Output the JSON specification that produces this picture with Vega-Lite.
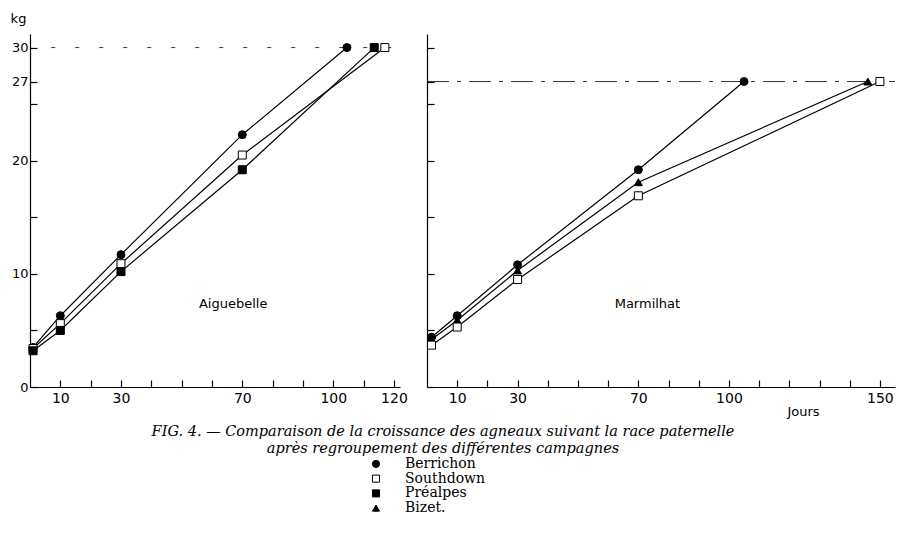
{
  "$schema": "https://vega.github.io/schema/vega-lite/v6.json",
  "background": "white",
  "padding": {"left": 5, "top": 12, "right": 2, "bottom": 5},
  "config": {
    "view": {"stroke": null},
    "font": "DejaVu Sans",
    "axis": {"domainColor": "black", "tickColor": "black", "labelColor": "black", "titleColor": "black", "grid": false, "domainWidth": 1.2, "tickWidth": 1.2}
  },
  "datasets": {
    "growth": [
      {"site": "Aiguebelle", "breed": "Berrichon", "day": 1, "kg": 3.5},
      {"site": "Aiguebelle", "breed": "Berrichon", "day": 10, "kg": 6.3},
      {"site": "Aiguebelle", "breed": "Berrichon", "day": 30, "kg": 11.7},
      {"site": "Aiguebelle", "breed": "Berrichon", "day": 70, "kg": 22.3},
      {"site": "Aiguebelle", "breed": "Berrichon", "day": 104.5, "kg": 30},
      {"site": "Aiguebelle", "breed": "Southdown", "day": 1, "kg": 3.4},
      {"site": "Aiguebelle", "breed": "Southdown", "day": 10, "kg": 5.6},
      {"site": "Aiguebelle", "breed": "Southdown", "day": 30, "kg": 10.9},
      {"site": "Aiguebelle", "breed": "Southdown", "day": 70, "kg": 20.5},
      {"site": "Aiguebelle", "breed": "Southdown", "day": 117, "kg": 30},
      {"site": "Aiguebelle", "breed": "Préalpes", "day": 1, "kg": 3.2},
      {"site": "Aiguebelle", "breed": "Préalpes", "day": 10, "kg": 5.0},
      {"site": "Aiguebelle", "breed": "Préalpes", "day": 30, "kg": 10.2},
      {"site": "Aiguebelle", "breed": "Préalpes", "day": 70, "kg": 19.2},
      {"site": "Aiguebelle", "breed": "Préalpes", "day": 113.5, "kg": 30},
      {"site": "Marmilhat", "breed": "Berrichon", "day": 1.5, "kg": 4.4},
      {"site": "Marmilhat", "breed": "Berrichon", "day": 10, "kg": 6.3},
      {"site": "Marmilhat", "breed": "Berrichon", "day": 30, "kg": 10.8},
      {"site": "Marmilhat", "breed": "Berrichon", "day": 70, "kg": 19.2},
      {"site": "Marmilhat", "breed": "Berrichon", "day": 105, "kg": 27},
      {"site": "Marmilhat", "breed": "Bizet", "day": 1.5, "kg": 4.2},
      {"site": "Marmilhat", "breed": "Bizet", "day": 10, "kg": 5.9},
      {"site": "Marmilhat", "breed": "Bizet", "day": 30, "kg": 10.3},
      {"site": "Marmilhat", "breed": "Bizet", "day": 70, "kg": 18.1},
      {"site": "Marmilhat", "breed": "Bizet", "day": 146, "kg": 27},
      {"site": "Marmilhat", "breed": "Southdown", "day": 1.5, "kg": 3.7},
      {"site": "Marmilhat", "breed": "Southdown", "day": 10, "kg": 5.3},
      {"site": "Marmilhat", "breed": "Southdown", "day": 30, "kg": 9.5},
      {"site": "Marmilhat", "breed": "Southdown", "day": 70, "kg": 16.9},
      {"site": "Marmilhat", "breed": "Southdown", "day": 150, "kg": 27}
    ],
    "refs": [
      {"site": "Aiguebelle", "x0": 7, "x1": 121, "kg": 30},
      {"site": "Marmilhat", "x0": 0, "x1": 155, "kg": 27}
    ],
    "sites": [
      {"site": "Aiguebelle", "day": 67, "kg": 7.3},
      {"site": "Marmilhat", "day": 73, "kg": 7.3}
    ],
    "breeds": [
      {"breed": "Berrichon", "label": "Berrichon"},
      {"breed": "Southdown", "label": "Southdown"},
      {"breed": "Préalpes", "label": "Préalpes"},
      {"breed": "Bizet", "label": "Bizet."}
    ]
  },
  "spacing": 422.5,
  "bounds": "flush",
  "vconcat": [
    {
      "spacing": 27,
      "bounds": "flush",
      "hconcat": [
        {
          "width": 370,
          "height": 353,
          "layer": [
            {
              "data": {"name": "refs"},
              "transform": [{"filter": "datum.site === 'Aiguebelle'"}],
              "mark": {"type": "rule", "color": "black", "strokeWidth": 0.8, "strokeDash": [4, 20]},
              "encoding": {
                "x": {"field": "x0", "type": "quantitative", "scale": {"domain": [0, 122], "nice": false}},
                "x2": {"field": "x1"},
                "y": {"field": "kg", "type": "quantitative", "scale": {"domain": [0, 31.2], "nice": false}}
              }
            },
            {
              "data": {"name": "growth"},
              "transform": [{"filter": "datum.site === 'Aiguebelle'"}],
              "mark": {"type": "line", "color": "black", "strokeWidth": 1.2},
              "encoding": {
                "x": {"field": "day", "type": "quantitative"},
                "y": {"field": "kg", "type": "quantitative"},
                "detail": {"field": "breed"}
              }
            },
            {
              "data": {"name": "growth"},
              "transform": [{"filter": "datum.site === 'Aiguebelle'"}],
              "mark": {"type": "point", "filled": true, "stroke": "black", "strokeWidth": 1, "opacity": 1, "size": 64},
              "encoding": {
                "x": {"field": "day", "type": "quantitative"},
                "y": {"field": "kg", "type": "quantitative"},
                "shape": {"field": "breed", "type": "nominal", "scale": {"domain": ["Berrichon", "Southdown", "Préalpes", "Bizet"], "range": ["circle", "square", "square", "triangle-up"]}, "legend": null},
                "fill": {"field": "breed", "type": "nominal", "scale": {"domain": ["Berrichon", "Southdown", "Préalpes", "Bizet"], "range": ["black", "white", "black", "black"]}, "legend": null}
              }
            },
            {
              "data": {"name": "sites"},
              "transform": [{"filter": "datum.site === 'Aiguebelle'"}],
              "mark": {"type": "text", "font": "DejaVu Sans", "fontSize": 13, "color": "black"},
              "encoding": {
                "x": {"field": "day", "type": "quantitative"},
                "y": {"field": "kg", "type": "quantitative"},
                "text": {"field": "site"}
              }
            }
          ],
          "encoding": {
            "x": {"axis": {"values": [10, 20, 30, 40, 50, 60, 70, 80, 90, 100, 110, 120], "labelExpr": "indexof([10,30,70,100,120], datum.value) >= 0 ? datum.label : ''", "tickSize": -7, "labelPadding": 11, "labelFontSize": 14, "title": null}},
            "y": {"axis": {"values": [0, 5, 10, 15, 20, 25, 27, 30], "labelExpr": "indexof([0,10,20,27,30], datum.value) >= 0 ? datum.label : ''", "tickSize": -7, "labelPadding": 9, "labelFontSize": 13, "title": "kg", "titleAngle": 0, "titleX": -12, "titleY": -16, "titleAlign": "center", "titleBaseline": "middle", "titleFontSize": 13, "titleFontWeight": "normal", "minExtent": 25, "maxExtent": 25}}
          }
        },
        {
          "width": 468,
          "height": 353,
          "layer": [
            {
              "data": {"name": "refs"},
              "transform": [{"filter": "datum.site === 'Marmilhat'"}],
              "mark": {"type": "rule", "color": "black", "strokeWidth": 0.8, "strokeDash": [22, 8, 4, 8]},
              "encoding": {
                "x": {"field": "x0", "type": "quantitative", "scale": {"domain": [0, 155], "nice": false}},
                "x2": {"field": "x1"},
                "y": {"field": "kg", "type": "quantitative", "scale": {"domain": [0, 31.2], "nice": false}}
              }
            },
            {
              "data": {"name": "growth"},
              "transform": [{"filter": "datum.site === 'Marmilhat'"}],
              "mark": {"type": "line", "color": "black", "strokeWidth": 1.2},
              "encoding": {
                "x": {"field": "day", "type": "quantitative"},
                "y": {"field": "kg", "type": "quantitative"},
                "detail": {"field": "breed"}
              }
            },
            {
              "data": {"name": "growth"},
              "transform": [{"filter": "datum.site === 'Marmilhat'"}],
              "mark": {"type": "point", "filled": true, "stroke": "black", "strokeWidth": 1, "opacity": 1, "size": 64},
              "encoding": {
                "x": {"field": "day", "type": "quantitative"},
                "y": {"field": "kg", "type": "quantitative"},
                "shape": {"field": "breed", "type": "nominal", "scale": {"domain": ["Berrichon", "Southdown", "Préalpes", "Bizet"], "range": ["circle", "square", "square", "triangle-up"]}, "legend": null},
                "fill": {"field": "breed", "type": "nominal", "scale": {"domain": ["Berrichon", "Southdown", "Préalpes", "Bizet"], "range": ["black", "white", "black", "black"]}, "legend": null}
              }
            },
            {
              "data": {"name": "sites"},
              "transform": [{"filter": "datum.site === 'Marmilhat'"}],
              "mark": {"type": "text", "font": "DejaVu Sans", "fontSize": 13, "color": "black"},
              "encoding": {
                "x": {"field": "day", "type": "quantitative"},
                "y": {"field": "kg", "type": "quantitative"},
                "text": {"field": "site"}
              }
            }
          ],
          "encoding": {
            "x": {"axis": {"values": [10, 20, 30, 40, 50, 60, 70, 80, 90, 100, 110, 120, 130, 140, 150], "labelExpr": "indexof([10,30,70,100,150], datum.value) >= 0 ? datum.label : ''", "tickSize": -7, "labelPadding": 11, "labelFontSize": 14, "title": "Jours", "titleX": 376, "titleY": 24, "titleAlign": "center", "titleBaseline": "middle", "titleFontSize": 13, "titleFontWeight": "normal"}},
            "y": {"axis": {"values": [0, 5, 10, 15, 20, 25, 27, 30], "labels": false, "tickSize": -7, "title": null, "minExtent": 0, "maxExtent": 0}}
          }
        }
      ]
    },
    {
      "width": 692,
      "height": 59,
      "data": {"name": "breeds"},
      "title": {
        "text": ["FIG. 4. — Comparaison de la croissance des agneaux suivant la race paternelle", "après regroupement des différentes campagnes"],
        "orient": "top",
        "anchor": "middle",
        "font": "DejaVu Serif",
        "fontStyle": "italic",
        "fontWeight": "normal",
        "fontSize": 14.5,
        "lineHeight": 17,
        "color": "black",
        "dx": 67,
        "offset": 0
      },
      "layer": [
        {
          "mark": {"type": "point", "filled": true, "stroke": "black", "strokeWidth": 1, "opacity": 1, "size": 50},
          "encoding": {
            "y": {"field": "breed", "type": "nominal", "sort": null, "scale": {"type": "point", "padding": 0.5}, "axis": null},
            "shape": {"field": "breed", "type": "nominal", "scale": {"domain": ["Berrichon", "Southdown", "Préalpes", "Bizet"], "range": ["circle", "square", "square", "triangle-up"]}, "legend": null},
            "fill": {"field": "breed", "type": "nominal", "scale": {"domain": ["Berrichon", "Southdown", "Préalpes", "Bizet"], "range": ["black", "white", "black", "black"]}, "legend": null}
          }
        },
        {
          "mark": {"type": "text", "align": "left", "baseline": "middle", "dx": 29, "font": "DejaVu Serif", "fontSize": 14, "color": "black"},
          "encoding": {
            "y": {"field": "breed", "type": "nominal", "sort": null, "scale": {"type": "point", "padding": 0.5}, "axis": null},
            "text": {"field": "label"}
          }
        }
      ]
    }
  ]
}
